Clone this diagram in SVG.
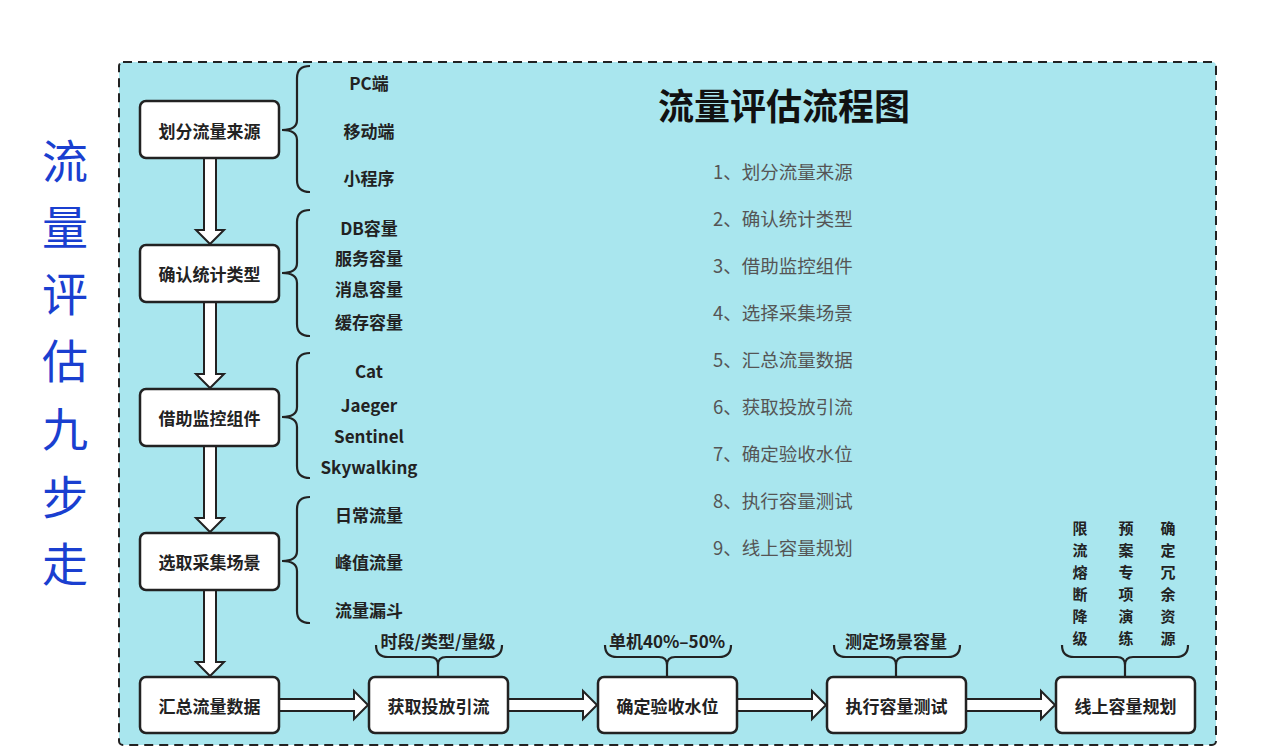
<svg xmlns="http://www.w3.org/2000/svg" width="1280" height="756" viewBox="0 0 1280 756">
<style>
.box{fill:#fff;stroke:#222;stroke-width:2.5}
.nt{font-family:"Noto Sans CJK SC",sans-serif;font-size:17px;font-weight:bold;fill:#222;text-anchor:middle;dominant-baseline:central}
.lt{font-family:"Noto Sans CJK SC",sans-serif;font-size:17px;font-weight:bold;fill:#222;text-anchor:middle;dominant-baseline:central}
.vc{font-family:"Noto Sans CJK SC",sans-serif;font-size:15px;font-weight:bold;fill:#222;text-anchor:middle;dominant-baseline:central}
.li{font-family:"Noto Sans CJK SC",sans-serif;font-size:18.5px;fill:#555;dominant-baseline:central}
.br{fill:none;stroke:#222;stroke-width:2.2}
.ar{fill:#fff;stroke:#222;stroke-width:2;stroke-linejoin:miter}
.vt{font-family:"Noto Sans CJK SC",sans-serif;font-size:46px;fill:#1a3fd0;text-anchor:middle;dominant-baseline:central}
</style>
<rect width="1280" height="756" fill="#fff"/>
<g id="side-title">
<text class="vt" x="65" y="158">流</text>
<text class="vt" x="65" y="224">量</text>
<text class="vt" x="65" y="291">评</text>
<text class="vt" x="65" y="358">估</text>
<text class="vt" x="65" y="426">九</text>
<text class="vt" x="65" y="494">步</text>
<text class="vt" x="65" y="561">走</text>
</g>
<g id="container">
<rect x="119" y="62" width="1097" height="683" rx="4" fill="#a9e6ee" stroke="#222" stroke-width="2" stroke-dasharray="9,6"/>
</g>
<g id="title">
<text x="784" y="104" font-family="Noto Sans CJK SC,sans-serif" font-size="36" font-weight="bold" fill="#111" text-anchor="middle" dominant-baseline="central">流量评估流程图</text>
</g>
<g id="list">
<text class="li" x="713" y="171">1、划分流量来源</text>
<text class="li" x="713" y="218">2、确认统计类型</text>
<text class="li" x="713" y="265">3、借助监控组件</text>
<text class="li" x="713" y="312">4、选择采集场景</text>
<text class="li" x="713" y="359">5、汇总流量数据</text>
<text class="li" x="713" y="406">6、获取投放引流</text>
<text class="li" x="713" y="453">7、确定验收水位</text>
<text class="li" x="713" y="500">8、执行容量测试</text>
<text class="li" x="713" y="547">9、线上容量规划</text>
</g>
<g id="connectors">
<polygon class="ar" points="204,158 216,158 216,230 224,230 210,244 196,230 204,230"/>
<polygon class="ar" points="204,302 216,302 216,374 224,374 210,388 196,374 204,374"/>
<polygon class="ar" points="204,446 216,446 216,518 224,518 210,532 196,518 204,518"/>
<polygon class="ar" points="204,590 216,590 216,662 224,662 210,676 196,662 204,662"/>
<polygon class="ar" points="279,699 279,711 354,711 354,719 368,705 354,691 354,699"/>
<polygon class="ar" points="508,699 508,711 583,711 583,719 597,705 583,691 583,699"/>
<polygon class="ar" points="737,699 737,711 812,711 812,719 826,705 812,691 812,699"/>
<polygon class="ar" points="966,699 966,711 1041,711 1041,719 1055,705 1041,691 1041,699"/>
</g>
<g id="braces">
<path class="br" d="M310,66 Q297,66 297,78 L297,120 Q297,130 282,130 Q297,130 297,140 L297,180 Q297,192 310,192"/>
<path class="br" d="M310,210 Q297,210 297,222 L297,263 Q297,273 282,273 Q297,273 297,283 L297,324 Q297,336 310,336"/>
<path class="br" d="M310,353 Q297,353 297,365 L297,407 Q297,417 282,417 Q297,417 297,427 L297,466 Q297,478 310,478"/>
<path class="br" d="M310,497 Q297,497 297,509 L297,551 Q297,561 282,561 Q297,561 297,571 L297,611 Q297,623 310,623"/>
<path class="br" d="M376,645 Q376,657 388,657 L430,657 Q438,657 438,665 L438,677 M438,665 Q438,657 446,657 L490,657 Q502,657 502,645"/>
<path class="br" d="M605,645 Q605,657 617,657 L659,657 Q667,657 667,665 L667,677 M667,665 Q667,657 675,657 L719,657 Q731,657 731,645"/>
<path class="br" d="M834,645 Q834,657 846,657 L888,657 Q896,657 896,665 L896,677 M896,665 Q896,657 904,657 L948,657 Q960,657 960,645"/>
<path class="br" d="M1062,645 Q1062,657 1074,657 L1117,657 Q1125,657 1125,665 L1125,677 M1125,665 Q1125,657 1133,657 L1176,657 Q1188,657 1188,645"/>
</g>
<g id="n1"><rect class="box" x="140" y="101" width="139" height="57" rx="6"/><text class="nt" x="209.5" y="130">划分流量来源</text></g>
<g id="n2"><rect class="box" x="140" y="245" width="139" height="57" rx="6"/><text class="nt" x="209.5" y="273">确认统计类型</text></g>
<g id="n3"><rect class="box" x="140" y="389" width="139" height="57" rx="6"/><text class="nt" x="209.5" y="417">借助监控组件</text></g>
<g id="n4"><rect class="box" x="140" y="533" width="139" height="57" rx="6"/><text class="nt" x="209.5" y="561">选取采集场景</text></g>
<g id="n5"><rect class="box" x="140" y="677" width="139" height="56" rx="6"/><text class="nt" x="209.5" y="705">汇总流量数据</text></g>
<g id="n6"><rect class="box" x="369" y="677" width="139" height="56" rx="6"/><text class="nt" x="438.5" y="705">获取投放引流</text></g>
<g id="n7"><rect class="box" x="598" y="677" width="139" height="56" rx="6"/><text class="nt" x="667.5" y="705">确定验收水位</text></g>
<g id="n8"><rect class="box" x="827" y="677" width="139" height="56" rx="6"/><text class="nt" x="896.5" y="705">执行容量测试</text></g>
<g id="n9"><rect class="box" x="1056" y="677" width="139" height="56" rx="6"/><text class="nt" x="1125.5" y="705">线上容量规划</text></g>
<g id="labels">
<text class="lt" x="369" y="82">PC端</text>
<text class="lt" x="369" y="130">移动端</text>
<text class="lt" x="369" y="177">小程序</text>
<text class="lt" x="369" y="227">DB容量</text>
<text class="lt" x="369" y="257">服务容量</text>
<text class="lt" x="369" y="288">消息容量</text>
<text class="lt" x="369" y="321">缓存容量</text>
<text class="lt" x="369" y="370">Cat</text>
<text class="lt" x="369" y="404">Jaeger</text>
<text class="lt" x="369" y="435">Sentinel</text>
<text class="lt" x="369" y="466">Skywalking</text>
<text class="lt" x="369" y="514">日常流量</text>
<text class="lt" x="369" y="561">峰值流量</text>
<text class="lt" x="369" y="609">流量漏斗</text>
<text class="lt" x="438" y="640">时段/类型/量级</text>
<text class="lt" x="667" y="640">单机40%–50%</text>
<text class="lt" x="896" y="640">测定场景容量</text>
<text class="vc" x="1080" y="527">限</text><text class="vc" x="1080" y="549">流</text><text class="vc" x="1080" y="571">熔</text><text class="vc" x="1080" y="593">断</text><text class="vc" x="1080" y="615">降</text><text class="vc" x="1080" y="637">级</text>
<text class="vc" x="1126" y="527">预</text><text class="vc" x="1126" y="549">案</text><text class="vc" x="1126" y="571">专</text><text class="vc" x="1126" y="593">项</text><text class="vc" x="1126" y="615">演</text><text class="vc" x="1126" y="637">练</text>
<text class="vc" x="1168" y="527">确</text><text class="vc" x="1168" y="549">定</text><text class="vc" x="1168" y="571">冗</text><text class="vc" x="1168" y="593">余</text><text class="vc" x="1168" y="615">资</text><text class="vc" x="1168" y="637">源</text>
</g>
</svg>
